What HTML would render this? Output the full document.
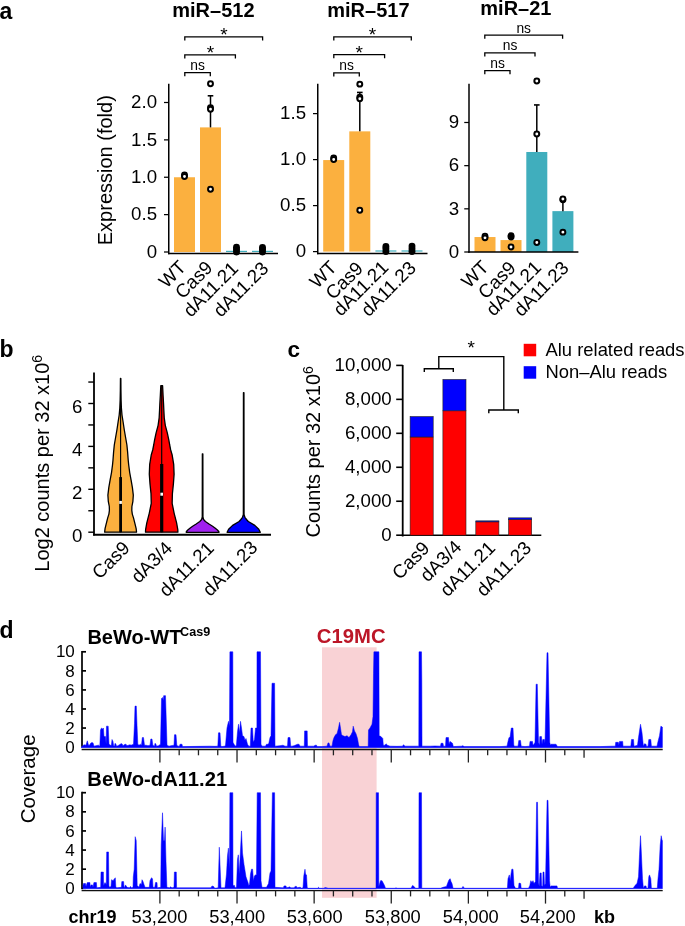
<!DOCTYPE html>
<html><head><meta charset="utf-8"><style>
html,body{margin:0;padding:0;background:#fff;}
svg{display:block;font-family:"Liberation Sans",sans-serif;will-change:transform;}
</style></head><body>
<svg width="685" height="926" viewBox="0 0 685 926">
<rect width="685" height="926" fill="#fff"/>
<rect x="174.00" y="177.25" width="21.00" height="74.75" fill="#FBB03F"/>
<rect x="200.00" y="127.39" width="21.00" height="124.61" fill="#FBB03F"/>
<rect x="226.00" y="250.80" width="21.00" height="1.20" fill="#40AEBD"/>
<rect x="252.00" y="250.80" width="21.00" height="1.20" fill="#40AEBD"/>
<line x1="210.50" y1="127.39" x2="210.50" y2="95.77" stroke="#000" stroke-width="1.5"/>
<line x1="207.70" y1="95.77" x2="213.30" y2="95.77" stroke="#000" stroke-width="1.6"/>
<circle cx="184.50" cy="174.95" r="2.45" fill="#fff" stroke="#000" stroke-width="2.0"/>
<circle cx="184.50" cy="176.56" r="2.45" fill="#fff" stroke="#000" stroke-width="2.0"/>
<circle cx="210.50" cy="83.81" r="2.45" fill="#fff" stroke="#000" stroke-width="2.0"/>
<circle cx="210.50" cy="107.68" r="2.45" fill="#fff" stroke="#000" stroke-width="2.0"/>
<circle cx="210.50" cy="109.28" r="2.45" fill="#fff" stroke="#000" stroke-width="2.0"/>
<circle cx="210.50" cy="189.21" r="2.45" fill="#fff" stroke="#000" stroke-width="2.0"/>
<circle cx="236.50" cy="252.00" r="3.45" fill="#000"/>
<circle cx="236.50" cy="249.38" r="3.45" fill="#000"/>
<circle cx="236.50" cy="247.14" r="3.45" fill="#000"/>
<circle cx="262.50" cy="252.00" r="3.45" fill="#000"/>
<circle cx="262.50" cy="249.38" r="3.45" fill="#000"/>
<circle cx="262.50" cy="247.51" r="3.45" fill="#000"/>
<line x1="168.75" y1="83.70" x2="168.75" y2="254.25" stroke="#000" stroke-width="1.5"/>
<line x1="168.00" y1="253.50" x2="278.00" y2="253.50" stroke="#000" stroke-width="1.5"/>
<line x1="164.00" y1="252.00" x2="168.75" y2="252.00" stroke="#000" stroke-width="1.25"/>
<text x="157.05" y="257.67" font-size="18.7" text-anchor="end" fill="#000" >0</text>
<line x1="164.00" y1="214.62" x2="168.75" y2="214.62" stroke="#000" stroke-width="1.25"/>
<text x="157.05" y="220.30" font-size="18.7" text-anchor="end" fill="#000" >0.5</text>
<line x1="164.00" y1="177.25" x2="168.75" y2="177.25" stroke="#000" stroke-width="1.25"/>
<text x="157.05" y="182.92" font-size="18.7" text-anchor="end" fill="#000" >1.0</text>
<line x1="164.00" y1="139.88" x2="168.75" y2="139.88" stroke="#000" stroke-width="1.25"/>
<text x="157.05" y="145.55" font-size="18.7" text-anchor="end" fill="#000" >1.5</text>
<line x1="164.00" y1="102.50" x2="168.75" y2="102.50" stroke="#000" stroke-width="1.25"/>
<text x="157.05" y="108.17" font-size="18.7" text-anchor="end" fill="#000" >2.0</text>
<text x="213.40" y="17.40" font-size="20" text-anchor="middle" font-weight="bold" fill="#000" >miR–512</text>
<polyline points="184.8,76.19999999999999 184.8,72.6 210.3,72.6 210.3,76.19999999999999" fill="none" stroke="#000" stroke-width="1.3"/>
<text x="197.60" y="70.00" font-size="13.8" text-anchor="middle" fill="#000" >ns</text>
<polyline points="184.8,58.5 184.8,54.9 235.4,54.9 235.4,58.5" fill="none" stroke="#000" stroke-width="1.3"/>
<text x="210.40" y="59.30" font-size="19" text-anchor="middle" fill="#000" >*</text>
<polyline points="184.8,40.5 184.8,36.9 262.6,36.9 262.6,40.5" fill="none" stroke="#000" stroke-width="1.3"/>
<text x="224.00" y="41.30" font-size="19" text-anchor="middle" fill="#000" >*</text>
<text x="-29.23" y="0" font-size="18.8" transform="translate(177.50,258.80) rotate(-45)" dy="13.54">WT</text>
<text x="-43.89" y="0" font-size="18.8" transform="translate(204.10,259.20) rotate(-45)" dy="13.54">Cas9</text>
<text x="-68.64" y="0" font-size="18.8" transform="translate(229.90,259.90) rotate(-45)" dy="13.54">dA11.21</text>
<text x="-68.64" y="0" font-size="18.8" transform="translate(260.00,259.90) rotate(-45)" dy="13.54">dA11.23</text>
<rect x="323.20" y="160.06" width="21.00" height="91.54" fill="#FBB03F"/>
<rect x="349.30" y="131.36" width="21.00" height="120.24" fill="#FBB03F"/>
<rect x="375.40" y="250.40" width="21.00" height="1.20" fill="#40AEBD"/>
<rect x="401.50" y="250.40" width="21.00" height="1.20" fill="#40AEBD"/>
<line x1="359.80" y1="131.36" x2="359.80" y2="92.44" stroke="#000" stroke-width="1.5"/>
<line x1="357.00" y1="92.44" x2="362.60" y2="92.44" stroke="#000" stroke-width="1.6"/>
<circle cx="333.70" cy="157.88" r="2.45" fill="#fff" stroke="#000" stroke-width="2.0"/>
<circle cx="333.70" cy="159.48" r="2.45" fill="#fff" stroke="#000" stroke-width="2.0"/>
<circle cx="359.80" cy="84.16" r="2.45" fill="#fff" stroke="#000" stroke-width="2.0"/>
<circle cx="359.80" cy="97.16" r="2.45" fill="#fff" stroke="#000" stroke-width="2.0"/>
<circle cx="359.80" cy="98.76" r="2.45" fill="#fff" stroke="#000" stroke-width="2.0"/>
<circle cx="359.80" cy="210.20" r="2.45" fill="#fff" stroke="#000" stroke-width="2.0"/>
<circle cx="385.90" cy="251.60" r="3.45" fill="#000"/>
<circle cx="385.90" cy="248.84" r="3.45" fill="#000"/>
<circle cx="385.90" cy="246.54" r="3.45" fill="#000"/>
<circle cx="412.00" cy="251.60" r="3.45" fill="#000"/>
<circle cx="412.00" cy="248.84" r="3.45" fill="#000"/>
<circle cx="412.00" cy="246.08" r="3.45" fill="#000"/>
<line x1="317.75" y1="83.70" x2="317.75" y2="254.25" stroke="#000" stroke-width="1.5"/>
<line x1="317.00" y1="253.50" x2="427.50" y2="253.50" stroke="#000" stroke-width="1.5"/>
<line x1="313.00" y1="251.60" x2="317.75" y2="251.60" stroke="#000" stroke-width="1.25"/>
<text x="306.05" y="257.27" font-size="18.7" text-anchor="end" fill="#000" >0</text>
<line x1="313.00" y1="205.60" x2="317.75" y2="205.60" stroke="#000" stroke-width="1.25"/>
<text x="306.05" y="211.27" font-size="18.7" text-anchor="end" fill="#000" >0.5</text>
<line x1="313.00" y1="159.60" x2="317.75" y2="159.60" stroke="#000" stroke-width="1.25"/>
<text x="306.05" y="165.27" font-size="18.7" text-anchor="end" fill="#000" >1.0</text>
<line x1="313.00" y1="113.60" x2="317.75" y2="113.60" stroke="#000" stroke-width="1.25"/>
<text x="306.05" y="119.27" font-size="18.7" text-anchor="end" fill="#000" >1.5</text>
<text x="368.40" y="17.40" font-size="20" text-anchor="middle" font-weight="bold" fill="#000" >miR–517</text>
<polyline points="333.8,76.5 333.8,72.9 359.3,72.9 359.3,76.5" fill="none" stroke="#000" stroke-width="1.3"/>
<text x="346.60" y="70.30" font-size="13.8" text-anchor="middle" fill="#000" >ns</text>
<polyline points="333.8,58.300000000000004 333.8,54.7 384.6,54.7 384.6,58.300000000000004" fill="none" stroke="#000" stroke-width="1.3"/>
<text x="359.20" y="59.10" font-size="19" text-anchor="middle" fill="#000" >*</text>
<polyline points="333.8,40.5 333.8,36.9 411.3,36.9 411.3,40.5" fill="none" stroke="#000" stroke-width="1.3"/>
<text x="372.50" y="41.30" font-size="19" text-anchor="middle" fill="#000" >*</text>
<text x="-29.23" y="0" font-size="18.8" transform="translate(328.30,259.10) rotate(-45)" dy="13.54">WT</text>
<text x="-43.89" y="0" font-size="18.8" transform="translate(354.60,260.00) rotate(-45)" dy="13.54">Cas9</text>
<text x="-68.64" y="0" font-size="18.8" transform="translate(380.00,258.90) rotate(-45)" dy="13.54">dA11.21</text>
<text x="-68.64" y="0" font-size="18.8" transform="translate(407.60,259.40) rotate(-45)" dy="13.54">dA11.23</text>
<rect x="474.50" y="237.03" width="21.00" height="14.97" fill="#FBB03F"/>
<rect x="500.50" y="240.06" width="21.00" height="11.94" fill="#FBB03F"/>
<rect x="526.30" y="151.99" width="21.00" height="100.01" fill="#40AEBD"/>
<rect x="552.40" y="211.13" width="21.00" height="40.87" fill="#40AEBD"/>
<line x1="536.80" y1="151.99" x2="536.80" y2="104.93" stroke="#000" stroke-width="1.5"/>
<line x1="534.00" y1="104.93" x2="539.60" y2="104.93" stroke="#000" stroke-width="1.6"/>
<line x1="562.90" y1="211.13" x2="562.90" y2="199.76" stroke="#000" stroke-width="1.5"/>
<line x1="560.10" y1="199.76" x2="565.70" y2="199.76" stroke="#000" stroke-width="1.6"/>
<circle cx="485.00" cy="236.23" r="2.45" fill="#fff" stroke="#000" stroke-width="2.0"/>
<circle cx="485.00" cy="237.83" r="2.45" fill="#fff" stroke="#000" stroke-width="2.0"/>
<circle cx="511.00" cy="237.03" r="3.45" fill="#000"/>
<circle cx="511.00" cy="235.74" r="3.45" fill="#000"/>
<circle cx="511.00" cy="246.96" r="2.45" fill="#fff" stroke="#000" stroke-width="2.0"/>
<circle cx="536.80" cy="81.05" r="2.45" fill="#fff" stroke="#000" stroke-width="2.0"/>
<circle cx="536.80" cy="134.00" r="2.45" fill="#fff" stroke="#000" stroke-width="2.0"/>
<circle cx="536.80" cy="242.50" r="2.45" fill="#fff" stroke="#000" stroke-width="2.0"/>
<circle cx="562.90" cy="199.76" r="2.45" fill="#fff" stroke="#000" stroke-width="2.0"/>
<circle cx="562.90" cy="199.04" r="2.45" fill="#fff" stroke="#000" stroke-width="2.0"/>
<circle cx="562.90" cy="232.14" r="2.45" fill="#fff" stroke="#000" stroke-width="2.0"/>
<line x1="469.00" y1="83.70" x2="469.00" y2="252.85" stroke="#000" stroke-width="1.5"/>
<line x1="468.25" y1="252.10" x2="578.40" y2="252.10" stroke="#000" stroke-width="1.5"/>
<line x1="464.25" y1="252.00" x2="469.00" y2="252.00" stroke="#000" stroke-width="1.25"/>
<text x="459.10" y="257.67" font-size="18.7" text-anchor="end" fill="#000" >0</text>
<line x1="464.25" y1="208.83" x2="469.00" y2="208.83" stroke="#000" stroke-width="1.25"/>
<text x="459.10" y="214.50" font-size="18.7" text-anchor="end" fill="#000" >3</text>
<line x1="464.25" y1="165.66" x2="469.00" y2="165.66" stroke="#000" stroke-width="1.25"/>
<text x="459.10" y="171.33" font-size="18.7" text-anchor="end" fill="#000" >6</text>
<line x1="464.25" y1="122.49" x2="469.00" y2="122.49" stroke="#000" stroke-width="1.25"/>
<text x="459.10" y="128.16" font-size="18.7" text-anchor="end" fill="#000" >9</text>
<text x="515.90" y="14.80" font-size="20" text-anchor="middle" font-weight="bold" fill="#000" >miR–21</text>
<polyline points="484.8,74.19999999999999 484.8,70.6 510.0,70.6 510.0,74.19999999999999" fill="none" stroke="#000" stroke-width="1.3"/>
<text x="497.50" y="68.00" font-size="13.8" text-anchor="middle" fill="#000" >ns</text>
<polyline points="484.8,56.4 484.8,52.8 535.0,52.8 535.0,56.4" fill="none" stroke="#000" stroke-width="1.3"/>
<text x="510.10" y="50.20" font-size="13.8" text-anchor="middle" fill="#000" >ns</text>
<polyline points="484.8,38.7 484.8,35.1 562.6,35.1 562.6,38.7" fill="none" stroke="#000" stroke-width="1.3"/>
<text x="523.70" y="32.50" font-size="13.8" text-anchor="middle" fill="#000" >ns</text>
<text x="-29.23" y="0" font-size="18.8" transform="translate(480.20,258.70) rotate(-45)" dy="13.54">WT</text>
<text x="-43.89" y="0" font-size="18.8" transform="translate(507.30,259.40) rotate(-45)" dy="13.54">Cas9</text>
<text x="-68.64" y="0" font-size="18.8" transform="translate(532.80,259.00) rotate(-45)" dy="13.54">dA11.21</text>
<text x="-68.64" y="0" font-size="18.8" transform="translate(560.40,259.40) rotate(-45)" dy="13.54">dA11.23</text>
<text x="0" y="0" font-size="20" text-anchor="middle" transform="translate(112.20,170.20) rotate(-90)">Expression (fold)</text>
<text x="-0.50" y="18.60" font-size="23" text-anchor="start" font-weight="bold" fill="#000" >a</text>
<text x="-0.50" y="357.30" font-size="23" text-anchor="start" font-weight="bold" fill="#000" >b</text>
<line x1="94.00" y1="372.50" x2="94.00" y2="535.60" stroke="#000" stroke-width="1.8"/>
<line x1="93.10" y1="534.75" x2="271.00" y2="534.75" stroke="#000" stroke-width="1.8"/>
<line x1="88.30" y1="532.20" x2="94.00" y2="532.20" stroke="#000" stroke-width="1.4"/>
<text x="82.30" y="541.70" font-size="18.7" text-anchor="end" fill="#000" >0</text>
<line x1="88.30" y1="510.75" x2="94.00" y2="510.75" stroke="#000" stroke-width="1.4"/>
<line x1="88.30" y1="489.30" x2="94.00" y2="489.30" stroke="#000" stroke-width="1.4"/>
<text x="82.30" y="498.80" font-size="18.7" text-anchor="end" fill="#000" >2</text>
<line x1="88.30" y1="467.85" x2="94.00" y2="467.85" stroke="#000" stroke-width="1.4"/>
<line x1="88.30" y1="446.40" x2="94.00" y2="446.40" stroke="#000" stroke-width="1.4"/>
<text x="82.30" y="455.90" font-size="18.7" text-anchor="end" fill="#000" >4</text>
<line x1="88.30" y1="424.95" x2="94.00" y2="424.95" stroke="#000" stroke-width="1.4"/>
<line x1="88.30" y1="403.50" x2="94.00" y2="403.50" stroke="#000" stroke-width="1.4"/>
<text x="82.30" y="413.00" font-size="18.7" text-anchor="end" fill="#000" >6</text>
<line x1="88.30" y1="382.05" x2="94.00" y2="382.05" stroke="#000" stroke-width="1.4"/>
<path d="M120.75,378.50 L120.85,390.00 L121.05,400.00 L121.40,408.00 L122.00,415.00 L123.10,422.00 L124.30,430.00 L125.60,437.50 L126.90,445.00 L127.60,452.00 L128.20,460.00 L128.70,465.00 L129.70,472.60 L131.10,480.10 L132.40,487.70 L133.30,495.20 L132.90,501.30 L131.90,506.50 L131.80,510.30 L132.30,514.10 L133.50,517.90 L135.00,523.90 L136.10,528.40 L136.50,531.50 L136.50,532.20 L104.70,532.20 L104.70,531.50 L105.10,528.40 L106.20,523.90 L107.70,517.90 L108.90,514.10 L109.40,510.30 L109.30,506.50 L108.30,501.30 L107.90,495.20 L108.80,487.70 L110.10,480.10 L111.50,472.60 L112.50,465.00 L113.00,460.00 L113.60,452.00 L114.30,445.00 L115.60,437.50 L116.90,430.00 L118.10,422.00 L119.20,415.00 L119.80,408.00 L120.15,400.00 L120.35,390.00 L120.45,378.50 Z" fill="#FBB03F" stroke="#000" stroke-width="1.3" stroke-linejoin="round"/>
<line x1="120.60" y1="378.30" x2="120.60" y2="532.20" stroke="#000" stroke-width="1.15"/>
<rect x="119.20" y="477.10" width="2.80" height="55.10" fill="#000"/>
<rect x="119.30" y="500.90" width="2.60" height="3.00" fill="#fff"/>
<path d="M162.60,385.70 L163.05,395.10 L163.50,402.70 L163.85,410.20 L164.25,417.80 L165.30,425.30 L167.30,432.90 L168.90,440.40 L169.70,445.00 L170.70,450.00 L172.10,454.70 L173.70,464.40 L174.10,474.20 L173.40,483.90 L172.40,493.60 L172.15,503.30 L174.10,513.10 L176.60,522.80 L177.80,529.60 L177.90,532.20 L145.50,532.20 L145.60,529.60 L146.80,522.80 L149.30,513.10 L151.25,503.30 L151.00,493.60 L150.00,483.90 L149.30,474.20 L149.70,464.40 L151.30,454.70 L152.70,450.00 L153.70,445.00 L154.50,440.40 L156.10,432.90 L158.10,425.30 L159.15,417.80 L159.55,410.20 L159.90,402.70 L160.35,395.10 L160.80,385.70 Z" fill="#FF0000" stroke="#000" stroke-width="1.3" stroke-linejoin="round"/>
<line x1="161.70" y1="385.70" x2="161.70" y2="532.20" stroke="#000" stroke-width="1.15"/>
<rect x="160.10" y="464.00" width="3.20" height="68.20" fill="#000"/>
<rect x="160.40" y="492.70" width="2.60" height="3.00" fill="#fff"/>
<path d="M202.85,453.80 L202.95,517.00 L203.60,519.50 L205.40,521.50 L209.40,524.20 L212.60,526.20 L215.30,528.20 L217.40,530.00 L218.80,531.50 L219.00,532.30 L186.20,532.30 L186.40,531.50 L187.80,530.00 L189.90,528.20 L192.60,526.20 L195.80,524.20 L199.80,521.50 L201.60,519.50 L202.25,517.00 L202.35,453.80 Z" fill="#A020F0" stroke="#000" stroke-width="1.3" stroke-linejoin="round"/>
<path d="M243.95,392.70 L244.05,514.50 L244.90,517.30 L246.50,519.50 L248.30,521.50 L254.80,525.40 L258.80,529.30 L260.30,532.30 L227.10,532.30 L228.60,529.30 L232.60,525.40 L239.10,521.50 L240.90,519.50 L242.50,517.30 L243.35,514.50 L243.45,392.70 Z" fill="#0000FF" stroke="#000" stroke-width="1.3" stroke-linejoin="round"/>
<text x="-43.89" y="0" font-size="18.8" transform="translate(121.30,539.40) rotate(-45)" dy="13.54">Cas9</text>
<text x="-49.13" y="0" font-size="18.8" transform="translate(163.80,539.80) rotate(-45)" dy="13.54">dA3/4</text>
<text x="-68.64" y="0" font-size="18.8" transform="translate(205.60,539.70) rotate(-45)" dy="13.54">dA11.21</text>
<text x="-68.64" y="0" font-size="18.8" transform="translate(249.20,539.10) rotate(-45)" dy="13.54">dA11.23</text>
<text x="0" y="0" font-size="20" text-anchor="middle" transform="translate(49.4,463.3) rotate(-90)">Log2 counts per 32 x10<tspan dy="-7.2" font-size="14">6</tspan></text>
<text x="287.60" y="357.40" font-size="22.5" text-anchor="start" font-weight="bold" fill="#000" >c</text>
<line x1="402.70" y1="365.00" x2="402.70" y2="536.50" stroke="#000" stroke-width="1.8"/>
<line x1="401.80" y1="535.20" x2="541.30" y2="535.20" stroke="#000" stroke-width="1.6"/>
<line x1="396.20" y1="535.20" x2="402.70" y2="535.20" stroke="#000" stroke-width="1.6"/>
<text x="391.70" y="540.90" font-size="18.7" text-anchor="end" fill="#000" >0</text>
<line x1="396.20" y1="501.24" x2="402.70" y2="501.24" stroke="#000" stroke-width="1.6"/>
<text x="391.70" y="506.94" font-size="18.7" text-anchor="end" fill="#000" >2,000</text>
<line x1="396.20" y1="467.28" x2="402.70" y2="467.28" stroke="#000" stroke-width="1.6"/>
<text x="391.70" y="472.98" font-size="18.7" text-anchor="end" fill="#000" >4,000</text>
<line x1="396.20" y1="433.32" x2="402.70" y2="433.32" stroke="#000" stroke-width="1.6"/>
<text x="391.70" y="439.02" font-size="18.7" text-anchor="end" fill="#000" >6,000</text>
<line x1="396.20" y1="399.36" x2="402.70" y2="399.36" stroke="#000" stroke-width="1.6"/>
<text x="391.70" y="405.06" font-size="18.7" text-anchor="end" fill="#000" >8,000</text>
<line x1="396.20" y1="365.40" x2="402.70" y2="365.40" stroke="#000" stroke-width="1.6"/>
<text x="391.70" y="371.10" font-size="18.7" text-anchor="end" fill="#000" >10,000</text>
<rect x="410.10" y="437.00" width="23.10" height="98.20" fill="#FF0000" stroke="#222" stroke-width="0.6"/>
<rect x="410.10" y="416.54" width="23.10" height="20.46" fill="#0000FF" stroke="#222" stroke-width="0.6"/>
<rect x="442.90" y="410.79" width="23.10" height="124.41" fill="#FF0000" stroke="#222" stroke-width="0.6"/>
<rect x="442.90" y="379.44" width="23.10" height="31.35" fill="#0000FF" stroke="#222" stroke-width="0.6"/>
<rect x="475.80" y="521.85" width="23.10" height="13.35" fill="#FF0000" stroke="#222" stroke-width="0.6"/>
<rect x="475.80" y="520.85" width="23.10" height="1.00" fill="#0000FF" stroke="#222" stroke-width="0.6"/>
<rect x="508.60" y="519.61" width="23.10" height="15.59" fill="#FF0000" stroke="#222" stroke-width="0.6"/>
<rect x="508.60" y="517.85" width="23.10" height="1.77" fill="#0000FF" stroke="#222" stroke-width="0.6"/>
<polyline points="424.3,372 424.3,368.8 453.3,368.8 453.3,372" fill="none" stroke="#000" stroke-width="1.4"/>
<polyline points="438.8,368.8 438.8,356.6 503.8,356.6 503.8,410" fill="none" stroke="#000" stroke-width="1.4"/>
<polyline points="488.8,413.2 488.8,410 518.3,410 518.3,413.2" fill="none" stroke="#000" stroke-width="1.4"/>
<text x="471.30" y="354.30" font-size="19" text-anchor="middle" fill="#000" >*</text>
<rect x="523.70" y="343.80" width="12.50" height="12.50" fill="#FF0000"/>
<rect x="523.70" y="366.20" width="12.50" height="12.50" fill="#0000FF"/>
<text x="545.50" y="356.30" font-size="18.4" text-anchor="start" fill="#000" >Alu related reads</text>
<text x="545.50" y="378.30" font-size="18.4" text-anchor="start" fill="#000" >Non–Alu reads</text>
<text x="-43.89" y="0" font-size="18.8" transform="translate(421.20,539.80) rotate(-45)" dy="13.54">Cas9</text>
<text x="-49.13" y="0" font-size="18.8" transform="translate(453.00,538.50) rotate(-45)" dy="13.54">dA3/4</text>
<text x="-68.64" y="0" font-size="18.8" transform="translate(486.80,539.40) rotate(-45)" dy="13.54">dA11.21</text>
<text x="-68.64" y="0" font-size="18.8" transform="translate(522.90,539.50) rotate(-45)" dy="13.54">dA11.23</text>
<text x="0" y="0" font-size="20" text-anchor="middle" transform="translate(320.2,451.8) rotate(-90)">Counts per 32 x10<tspan dy="-7.2" font-size="14">6</tspan></text>
<rect x="322" y="647.3" width="54.6" height="250.5" fill="#F9D2D5"/>
<line x1="82.0" y1="650.90" x2="82.0" y2="748.00" stroke="#1a1a1a" stroke-width="1.9"/>
<line x1="82.0" y1="747.10" x2="86" y2="747.10" stroke="#000" stroke-width="1.7"/>
<text x="74.8" y="752.74" font-size="17" text-anchor="end">0</text>
<line x1="82.0" y1="728.04" x2="86" y2="728.04" stroke="#000" stroke-width="1.7"/>
<text x="74.8" y="733.68" font-size="17" text-anchor="end">2</text>
<line x1="82.0" y1="708.98" x2="86" y2="708.98" stroke="#000" stroke-width="1.7"/>
<text x="74.8" y="714.62" font-size="17" text-anchor="end">4</text>
<line x1="82.0" y1="689.92" x2="86" y2="689.92" stroke="#000" stroke-width="1.7"/>
<text x="74.8" y="695.56" font-size="17" text-anchor="end">6</text>
<line x1="82.0" y1="670.86" x2="86" y2="670.86" stroke="#000" stroke-width="1.7"/>
<text x="74.8" y="676.50" font-size="17" text-anchor="end">8</text>
<line x1="82.0" y1="651.80" x2="86" y2="651.80" stroke="#000" stroke-width="1.7"/>
<text x="74.8" y="657.44" font-size="17" text-anchor="end">10</text>
<line x1="82.0" y1="791.80" x2="82.0" y2="889.20" stroke="#1a1a1a" stroke-width="1.9"/>
<line x1="82.0" y1="888.30" x2="86" y2="888.30" stroke="#000" stroke-width="1.7"/>
<text x="74.8" y="893.93" font-size="17" text-anchor="end">0</text>
<line x1="82.0" y1="869.18" x2="86" y2="869.18" stroke="#000" stroke-width="1.7"/>
<text x="74.8" y="874.81" font-size="17" text-anchor="end">2</text>
<line x1="82.0" y1="850.06" x2="86" y2="850.06" stroke="#000" stroke-width="1.7"/>
<text x="74.8" y="855.69" font-size="17" text-anchor="end">4</text>
<line x1="82.0" y1="830.94" x2="86" y2="830.94" stroke="#000" stroke-width="1.7"/>
<text x="74.8" y="836.57" font-size="17" text-anchor="end">6</text>
<line x1="82.0" y1="811.82" x2="86" y2="811.82" stroke="#000" stroke-width="1.7"/>
<text x="74.8" y="817.45" font-size="17" text-anchor="end">8</text>
<line x1="82.0" y1="792.70" x2="86" y2="792.70" stroke="#000" stroke-width="1.7"/>
<text x="74.8" y="798.33" font-size="17" text-anchor="end">10</text>
<rect x="81.0" y="746.75" width="581.40" height="1.3" fill="#A4A4FF"/>
<path d="M81.00,747.40 L84.00,744.72 L86.00,745.19 L87.30,740.81 L88.50,745.19 L89.50,745.19 L91.00,742.81 L93.00,742.81 L94.00,746.15 L96.00,745.67 L98.50,745.19 L99.80,746.15 L100.50,729.95 L101.50,728.04 L102.50,728.99 L103.40,728.04 L104.00,736.62 L105.50,736.62 L106.10,744.24 L106.50,726.13 L108.20,726.13 L109.00,744.24 L110.50,745.19 L111.40,745.19 L112.00,739.48 L113.00,741.38 L113.50,745.19 L114.50,746.15 L115.00,743.29 L116.00,744.24 L116.50,746.15 L118.00,745.67 L121.00,743.76 L122.00,743.76 L123.00,745.67 L125.00,744.24 L126.00,744.24 L127.00,745.67 L130.00,744.72 L131.00,745.19 L133.50,744.24 L134.50,723.27 L135.00,706.12 L136.30,706.12 L137.00,725.18 L137.80,744.24 L139.00,745.19 L140.50,744.24 L141.50,745.19 L142.30,737.57 L143.50,737.57 L144.50,745.19 L146.00,745.19 L148.00,745.67 L150.00,745.19 L150.80,739.00 L152.00,739.00 L152.80,745.19 L154.50,746.15 L155.00,743.29 L156.00,744.24 L156.50,746.15 L158.50,745.67 L160.50,744.24 L161.50,698.50 L162.50,697.54 L163.30,700.40 L163.70,695.64 L165.50,695.64 L166.50,728.04 L167.00,745.19 L169.00,746.15 L171.00,745.67 L174.00,745.19 L174.50,734.71 L176.00,734.71 L176.80,745.19 L178.00,746.15 L179.50,746.15 L180.00,744.24 L182.00,744.24 L182.50,746.62 L200.00,746.34 L210.00,746.15 L215.00,746.34 L217.80,746.15 L218.50,732.81 L220.00,732.81 L220.80,746.15 L222.00,746.62 L224.50,746.15 L225.50,745.19 L227.00,728.04 L228.50,721.37 L229.50,726.13 L229.90,651.80 L232.80,651.80 L233.00,742.34 L234.00,744.24 L235.50,746.15 L236.40,745.19 L237.50,731.85 L238.50,724.23 L239.50,732.81 L240.50,721.37 L241.50,728.04 L242.50,735.66 L244.00,736.62 L245.00,740.43 L246.00,738.52 L247.50,744.24 L248.80,746.15 L250.30,746.15 L251.00,728.04 L252.50,728.04 L253.30,742.34 L254.50,739.48 L255.50,728.04 L256.90,728.04 L257.00,651.80 L260.50,651.80 L261.00,744.24 L262.00,746.15 L265.50,746.15 L266.50,744.24 L268.00,744.24 L268.80,743.29 L270.00,737.57 L271.00,735.66 L272.00,683.25 L274.60,683.25 L275.00,746.15 L280.00,745.67 L283.00,745.19 L285.00,746.15 L287.50,746.15 L288.00,737.57 L290.00,737.57 L290.70,746.15 L292.00,746.15 L294.00,745.67 L297.50,744.24 L299.00,744.24 L300.00,746.15 L302.00,746.15 L304.30,746.15 L304.60,730.90 L307.20,730.90 L307.50,746.15 L311.00,746.15 L314.00,746.15 L315.00,745.19 L316.50,745.19 L317.00,746.62 L322.00,746.62 L327.00,746.15 L328.00,742.91 L329.00,742.91 L330.00,746.15 L332.00,746.15 L333.00,740.43 L334.00,737.57 L335.50,734.71 L337.00,733.76 L338.50,728.04 L339.60,722.32 L340.50,728.04 L341.50,734.71 L343.00,735.66 L345.00,736.62 L347.00,735.66 L349.00,737.57 L351.00,734.71 L352.50,731.85 L353.20,726.13 L354.50,730.90 L356.00,733.76 L357.50,738.52 L358.50,744.24 L359.20,746.62 L367.50,746.62 L368.20,746.15 L368.50,729.95 L370.00,728.04 L372.00,724.23 L373.00,716.60 L373.50,673.72 L373.90,651.80 L378.90,651.80 L379.20,735.66 L381.00,736.62 L382.80,738.52 L383.30,745.19 L385.00,745.19 L386.00,743.76 L387.50,745.19 L390.00,746.15 L397.00,746.34 L402.50,746.15 L403.50,744.72 L405.00,746.15 L412.00,746.15 L418.50,746.15 L418.80,746.15 L419.00,651.80 L421.50,651.80 L421.80,682.30 L422.00,746.15 L430.00,746.15 L435.00,745.96 L440.50,746.15 L441.00,743.29 L443.00,743.29 L443.50,746.15 L445.50,746.15 L446.00,737.57 L448.50,737.57 L449.00,744.24 L450.00,741.38 L452.50,743.29 L453.30,746.62 L461.50,746.15 L462.50,745.67 L464.50,746.62 L500.00,746.62 L507.00,746.15 L508.00,741.38 L509.00,737.57 L510.00,737.57 L511.30,728.04 L513.00,728.04 L513.80,745.19 L514.50,746.15 L518.00,746.15 L518.80,740.43 L520.50,740.43 L521.20,746.15 L525.00,746.62 L529.50,746.15 L530.00,741.38 L532.50,741.38 L533.00,745.19 L534.00,744.24 L535.00,742.34 L536.10,684.20 L537.30,684.20 L538.50,742.34 L539.50,745.19 L539.80,736.62 L541.50,736.62 L542.00,744.24 L542.80,739.48 L544.40,739.48 L545.00,743.29 L547.00,652.75 L548.00,652.75 L549.70,742.34 L550.50,745.19 L551.00,744.24 L556.00,744.24 L557.50,746.62 L600.00,746.62 L612.00,746.15 L615.30,746.15 L615.70,742.34 L618.30,742.34 L618.80,745.19 L619.50,741.38 L622.70,741.38 L623.00,746.15 L628.00,746.15 L630.80,746.15 L631.50,739.48 L633.50,739.48 L634.00,746.15 L636.00,745.67 L637.50,745.19 L638.50,737.57 L640.50,724.23 L642.00,732.81 L643.40,746.15 L644.50,743.76 L646.00,744.24 L646.50,746.62 L648.00,746.15 L648.80,739.48 L650.80,739.48 L651.40,746.15 L655.00,746.15 L657.00,746.15 L658.00,741.38 L659.50,735.66 L660.90,726.13 L662.20,727.09 L662.40,727.09 L662.40,747.40 Z" fill="#0000FF" stroke="#0000FF" stroke-width="0.5" stroke-linejoin="miter"/>
<rect x="83.0" y="887.95" width="579.40" height="1.3" fill="#A4A4FF"/>
<path d="M83.00,888.60 L83.00,885.43 L83.50,883.52 L85.50,883.52 L86.00,886.39 L87.30,882.56 L89.90,882.56 L90.30,887.34 L91.00,884.95 L92.50,884.95 L93.00,887.34 L93.90,882.56 L96.40,882.56 L96.80,887.82 L100.70,887.34 L101.00,872.05 L103.40,872.05 L103.60,885.43 L105.00,882.56 L106.30,884.48 L106.70,851.97 L108.50,851.97 L108.90,885.43 L109.50,887.34 L111.00,886.39 L111.50,879.70 L113.00,880.65 L114.50,878.74 L115.30,877.78 L115.80,886.39 L116.50,887.82 L121.40,887.34 L121.80,881.61 L123.60,881.61 L124.00,887.34 L124.50,887.34 L125.50,884.95 L127.00,887.34 L129.50,887.82 L130.50,886.39 L131.50,887.82 L133.00,887.34 L133.30,876.83 L134.20,869.18 L135.20,836.68 L136.20,840.50 L137.20,885.43 L139.00,887.34 L140.00,883.52 L141.50,884.48 L142.00,879.70 L143.00,881.61 L144.00,884.48 L145.00,887.34 L149.30,887.34 L150.00,880.65 L151.50,877.78 L152.50,878.74 L153.00,887.34 L154.80,887.34 L155.50,882.56 L157.00,882.56 L157.30,887.82 L160.70,887.34 L161.20,845.28 L162.50,812.78 L163.50,840.50 L164.50,840.50 L165.10,827.12 L166.00,861.53 L166.90,887.34 L169.50,887.82 L170.50,886.87 L172.00,887.82 L174.00,887.34 L174.40,872.05 L176.30,872.05 L176.60,887.82 L211.00,887.82 L212.00,885.91 L214.00,886.87 L214.50,888.30 L218.20,887.82 L219.30,847.19 L220.20,869.18 L221.00,887.82 L225.00,887.82 L226.50,873.96 L227.50,855.80 L228.40,848.15 L229.50,869.18 L229.90,792.70 L232.80,792.70 L233.00,885.43 L234.50,885.43 L235.00,887.82 L236.50,887.34 L237.50,859.62 L238.30,854.84 L239.20,873.96 L240.00,859.62 L241.50,830.94 L242.50,852.93 L244.00,864.40 L246.00,876.83 L248.00,882.56 L248.80,885.43 L249.50,884.48 L250.50,873.96 L251.50,869.18 L252.60,869.18 L253.50,880.65 L254.50,875.87 L255.50,874.92 L256.50,874.92 L257.20,792.70 L260.50,792.70 L261.00,880.65 L262.00,887.34 L266.50,887.34 L268.50,883.52 L270.00,873.00 L271.00,871.09 L272.40,792.70 L274.60,792.70 L275.00,887.34 L283.40,887.82 L284.00,885.91 L286.00,885.91 L286.50,887.82 L288.50,887.34 L290.00,886.87 L290.50,887.82 L294.30,887.82 L295.00,886.39 L296.50,886.39 L297.00,887.82 L299.50,887.34 L300.50,887.34 L301.00,888.30 L303.00,887.82 L303.80,875.87 L305.00,869.18 L305.50,873.96 L306.50,874.92 L307.20,887.34 L308.00,888.30 L317.50,888.30 L318.50,887.34 L319.50,888.30 L324.00,888.30 L325.00,887.54 L328.50,888.30 L376.00,888.30 L376.20,792.70 L378.50,792.70 L378.80,886.39 L380.50,880.65 L382.00,880.65 L384.50,885.43 L385.50,888.30 L395.00,888.30 L396.00,887.82 L397.00,888.30 L411.00,888.30 L412.50,885.43 L414.00,886.39 L415.50,888.30 L418.80,888.30 L419.00,792.70 L421.50,792.70 L421.80,888.30 L440.50,888.30 L443.00,887.34 L446.50,886.39 L447.50,883.52 L449.00,879.70 L450.20,878.74 L451.00,881.61 L452.00,883.52 L453.10,888.30 L461.80,888.30 L463.00,886.39 L464.50,888.30 L507.40,888.30 L508.00,878.74 L509.30,874.92 L510.30,880.65 L511.00,873.96 L511.80,869.18 L513.00,869.18 L514.00,885.43 L515.50,888.30 L518.50,888.30 L519.00,883.04 L520.70,883.52 L521.20,888.30 L528.50,888.30 L529.80,885.43 L530.80,880.65 L532.00,882.56 L533.00,880.65 L534.00,883.52 L535.50,881.61 L536.60,802.26 L537.50,802.26 L538.50,882.56 L539.20,886.39 L540.00,873.00 L541.20,873.00 L541.60,885.43 L542.70,886.39 L543.00,872.05 L544.00,872.05 L544.50,885.43 L545.50,883.52 L547.10,800.35 L548.00,800.35 L549.50,880.65 L550.20,887.34 L551.00,885.91 L557.00,885.91 L557.50,888.30 L633.20,888.30 L635.00,885.43 L637.00,883.52 L638.50,876.83 L639.50,854.84 L640.50,835.72 L641.30,851.97 L642.50,878.74 L643.40,888.30 L644.50,885.91 L646.00,885.91 L646.50,888.30 L648.00,888.30 L648.80,876.83 L649.50,874.92 L650.80,878.74 L651.40,888.30 L657.30,888.30 L658.00,878.74 L659.00,869.18 L660.20,845.28 L661.20,835.72 L662.10,840.50 L662.40,840.50 L662.40,888.60 Z" fill="#0000FF" stroke="#0000FF" stroke-width="0.5" stroke-linejoin="miter"/>
<line x1="81.6" y1="749.50" x2="662.70" y2="749.50" stroke="#111" stroke-width="1.3"/>
<line x1="159.90" y1="749.50" x2="159.90" y2="762.50" stroke="#222" stroke-width="1.3"/>
<line x1="179.18" y1="749.50" x2="179.18" y2="755.30" stroke="#222" stroke-width="1.3"/>
<line x1="198.46" y1="749.50" x2="198.46" y2="755.30" stroke="#222" stroke-width="1.3"/>
<line x1="217.74" y1="749.50" x2="217.74" y2="755.30" stroke="#222" stroke-width="1.3"/>
<line x1="237.02" y1="749.50" x2="237.02" y2="762.50" stroke="#222" stroke-width="1.3"/>
<line x1="256.30" y1="749.50" x2="256.30" y2="755.30" stroke="#222" stroke-width="1.3"/>
<line x1="275.58" y1="749.50" x2="275.58" y2="755.30" stroke="#222" stroke-width="1.3"/>
<line x1="294.86" y1="749.50" x2="294.86" y2="755.30" stroke="#222" stroke-width="1.3"/>
<line x1="314.14" y1="749.50" x2="314.14" y2="762.50" stroke="#222" stroke-width="1.3"/>
<line x1="333.42" y1="749.50" x2="333.42" y2="755.30" stroke="#222" stroke-width="1.3"/>
<line x1="352.70" y1="749.50" x2="352.70" y2="755.30" stroke="#222" stroke-width="1.3"/>
<line x1="371.98" y1="749.50" x2="371.98" y2="755.30" stroke="#222" stroke-width="1.3"/>
<line x1="391.26" y1="749.50" x2="391.26" y2="762.50" stroke="#222" stroke-width="1.3"/>
<line x1="410.54" y1="749.50" x2="410.54" y2="755.30" stroke="#222" stroke-width="1.3"/>
<line x1="429.82" y1="749.50" x2="429.82" y2="755.30" stroke="#222" stroke-width="1.3"/>
<line x1="449.10" y1="749.50" x2="449.10" y2="755.30" stroke="#222" stroke-width="1.3"/>
<line x1="468.38" y1="749.50" x2="468.38" y2="762.50" stroke="#222" stroke-width="1.3"/>
<line x1="487.66" y1="749.50" x2="487.66" y2="755.30" stroke="#222" stroke-width="1.3"/>
<line x1="506.94" y1="749.50" x2="506.94" y2="755.30" stroke="#222" stroke-width="1.3"/>
<line x1="526.22" y1="749.50" x2="526.22" y2="755.30" stroke="#222" stroke-width="1.3"/>
<line x1="545.50" y1="749.50" x2="545.50" y2="762.50" stroke="#222" stroke-width="1.3"/>
<line x1="564.78" y1="749.50" x2="564.78" y2="755.30" stroke="#222" stroke-width="1.3"/>
<line x1="584.06" y1="749.50" x2="584.06" y2="757.70" stroke="#222" stroke-width="1.3"/>
<line x1="81.6" y1="890.60" x2="662.70" y2="890.60" stroke="#111" stroke-width="1.3"/>
<line x1="159.90" y1="890.60" x2="159.90" y2="903.60" stroke="#222" stroke-width="1.3"/>
<line x1="179.18" y1="890.60" x2="179.18" y2="896.40" stroke="#222" stroke-width="1.3"/>
<line x1="198.46" y1="890.60" x2="198.46" y2="896.40" stroke="#222" stroke-width="1.3"/>
<line x1="217.74" y1="890.60" x2="217.74" y2="896.40" stroke="#222" stroke-width="1.3"/>
<line x1="237.02" y1="890.60" x2="237.02" y2="903.60" stroke="#222" stroke-width="1.3"/>
<line x1="256.30" y1="890.60" x2="256.30" y2="896.40" stroke="#222" stroke-width="1.3"/>
<line x1="275.58" y1="890.60" x2="275.58" y2="896.40" stroke="#222" stroke-width="1.3"/>
<line x1="294.86" y1="890.60" x2="294.86" y2="896.40" stroke="#222" stroke-width="1.3"/>
<line x1="314.14" y1="890.60" x2="314.14" y2="903.60" stroke="#222" stroke-width="1.3"/>
<line x1="333.42" y1="890.60" x2="333.42" y2="896.40" stroke="#222" stroke-width="1.3"/>
<line x1="352.70" y1="890.60" x2="352.70" y2="896.40" stroke="#222" stroke-width="1.3"/>
<line x1="371.98" y1="890.60" x2="371.98" y2="896.40" stroke="#222" stroke-width="1.3"/>
<line x1="391.26" y1="890.60" x2="391.26" y2="903.60" stroke="#222" stroke-width="1.3"/>
<line x1="410.54" y1="890.60" x2="410.54" y2="896.40" stroke="#222" stroke-width="1.3"/>
<line x1="429.82" y1="890.60" x2="429.82" y2="896.40" stroke="#222" stroke-width="1.3"/>
<line x1="449.10" y1="890.60" x2="449.10" y2="896.40" stroke="#222" stroke-width="1.3"/>
<line x1="468.38" y1="890.60" x2="468.38" y2="903.60" stroke="#222" stroke-width="1.3"/>
<line x1="487.66" y1="890.60" x2="487.66" y2="896.40" stroke="#222" stroke-width="1.3"/>
<line x1="506.94" y1="890.60" x2="506.94" y2="896.40" stroke="#222" stroke-width="1.3"/>
<line x1="526.22" y1="890.60" x2="526.22" y2="896.40" stroke="#222" stroke-width="1.3"/>
<line x1="545.50" y1="890.60" x2="545.50" y2="903.60" stroke="#222" stroke-width="1.3"/>
<line x1="564.78" y1="890.60" x2="564.78" y2="896.40" stroke="#222" stroke-width="1.3"/>
<line x1="584.06" y1="890.60" x2="584.06" y2="898.80" stroke="#222" stroke-width="1.3"/>
<text x="-0.5" y="638.2" font-size="23" font-weight="bold">d</text>
<text x="87.4" y="643.5" font-size="20" font-weight="bold">BeWo-WT<tspan dx="-1.4" dy="-7.6" font-size="12.6">Cas9</tspan></text>
<text x="87.3" y="785.6" font-size="20.2" font-weight="bold">BeWo-dA11.21</text>
<text x="351.2" y="642.9" font-size="20.3" font-weight="bold" text-anchor="middle" fill="#BC1627">C19MC</text>
<text x="0" y="0" font-size="20.5" text-anchor="middle" transform="translate(34.6,778.9) rotate(-90)">Coverage</text>
<text x="68.6" y="923.1" font-size="18" font-weight="bold">chr19</text>
<text x="159.50" y="923.2" font-size="18.3" text-anchor="middle">53,200</text>
<text x="237.22" y="923.2" font-size="18.3" text-anchor="middle">53,400</text>
<text x="314.74" y="923.2" font-size="18.3" text-anchor="middle">53,600</text>
<text x="392.76" y="923.2" font-size="18.3" text-anchor="middle">53,800</text>
<text x="470.78" y="923.2" font-size="18.3" text-anchor="middle">54,000</text>
<text x="547.80" y="923.2" font-size="18.3" text-anchor="middle">54,200</text>
<text x="594" y="923.1" font-size="18" font-weight="bold">kb</text>
</svg>
</body></html>
